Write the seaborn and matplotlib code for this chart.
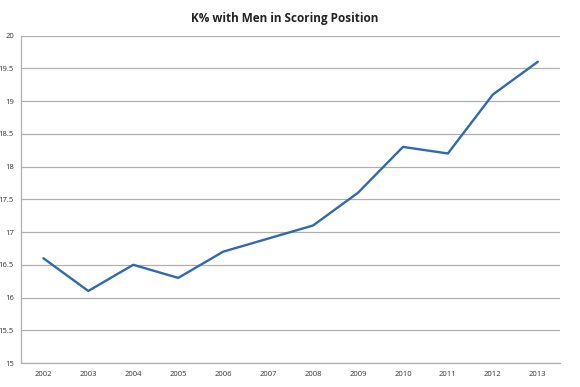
import numpy as np
import pandas as pd
import matplotlib
matplotlib.use("Agg")
import matplotlib.pyplot as plt
import seaborn as sns

years = ["2002", "2003", "2004", "2005", "2006", "2007",
         "2008", "2009", "2010", "2011", "2012", "2013"]
k_pct = [16.6, 16.1, 16.5, 16.3, 16.7, 16.9, 17.1, 17.6, 18.3, 18.2, 19.1, 19.6]
y_ticks = [15, 15.5, 16, 16.5, 17, 17.5, 18, 18.5, 19, 19.5, 20]

df = pd.DataFrame({"pos": np.arange(len(years)), "year": years, "k": k_pct})

sns.set_style("white")
plt.rcParams["font.family"] = ["Open Sans", "DejaVu Sans"]

fig = plt.figure(figsize=(5.8, 3.87), dpi=100)
ax = fig.add_axes([0.036, 0.062, 0.93, 0.846])

sns.lineplot(data=df, x="pos", y="k", ax=ax, color="#2f69b0", linewidth=1.7)

ax.set_xlim(-0.5, len(years) - 0.5)
ax.set_ylim(15, 20)
ax.set_yticks(y_ticks)
ax.set_yticklabels([f"{v:g}" for v in y_ticks], fontsize=5.5, color="#333333")
ax.set_xticks(df["pos"])
ax.set_xticklabels(years, fontsize=5.5, color="#333333")
ax.set_xticks(np.arange(-0.5, len(years), 1), minor=True)
ax.tick_params(axis="x", which="major", length=0, pad=6)
ax.tick_params(axis="x", which="minor", length=3, color="#999999", width=0.8)
ax.tick_params(axis="y", length=3, color="#999999", width=0.8, pad=2)

ax.grid(axis="y", color="#b0b0b0", linewidth=0.9)
ax.set_axisbelow(True)
for side in ["top", "right"]:
    ax.spines[side].set_visible(False)
for side in ["left", "bottom"]:
    ax.spines[side].set_color("#b0b0b0")
    ax.spines[side].set_linewidth(0.9)

ax.set_xlabel("")
ax.set_ylabel("")
fig.text(0.49, 0.953, "K% with Men in Scoring Position", ha="center", va="center",
         fontsize=8.5, fontweight="bold", color="#222222")

fig.savefig("out.png", dpi=100)
